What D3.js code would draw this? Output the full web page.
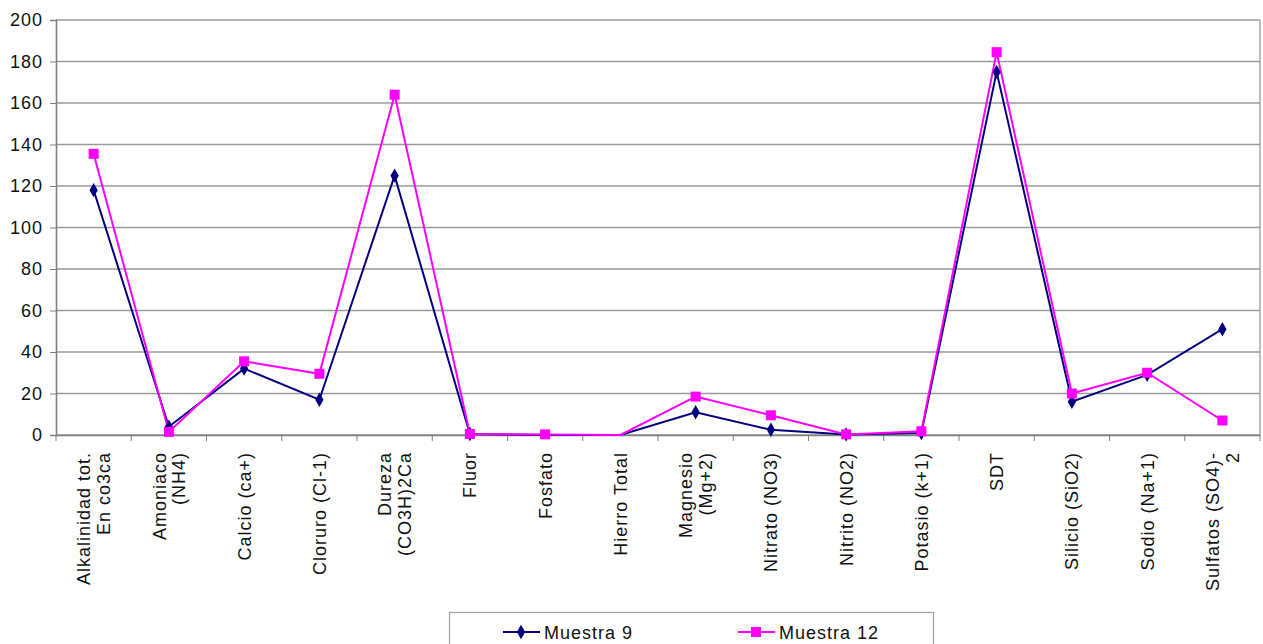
<!DOCTYPE html>
<html><head><meta charset="utf-8">
<script src="https://cdn.jsdelivr.net/npm/d3@7"></script>
<style>body{margin:0;background:#fff}svg{display:block;font-family:"Liberation Sans",Arial,sans-serif}</style>
</head><body><svg id="c" width="1263" height="644"></svg>
<script>
const categories = [
  ["Alkalinidad tot.","En co3ca"], ["Amoniaco","(NH4)"], ["Calcio (ca+)"], ["Cloruro (Cl-1)"],
  ["Dureza","(CO3H)2Ca"], ["Fluor"], ["Fosfato"], ["Hierro Total"], ["Magnesio","(Mg+2)"],
  ["Nitrato (NO3)"], ["Nitrito (NO2)"], ["Potasio (k+1)"], ["SDT"], ["Silicio (SiO2)"],
  ["Sodio (Na+1)"], ["Sulfatos (SO4)-","2"]
];
const muestra9  = [118, 4, 32, 17, 125, 0.5, 0, 0, 11, 2.5, 0.3, 1, 175, 16, 29, 51];
const muestra12 = [135.5, 1.5, 35.5, 29.5, 164, 0.5, 0.3, 0, 18.5, 9.5, 0.3, 1.8, 184.5, 20, 30, 7];
const yTicks = [0, 20, 40, 60, 80, 100, 120, 140, 160, 180, 200];
const seriesNames = ["Muestra 9", "Muestra 12"];

const FS = 18, LS = 1;
const svg = d3.select("#c");
const L = 56, R = 1260, T = 20, B = 435;
const x = d3.scaleBand().domain(d3.range(categories.length)).range([L, R]);
const y = d3.scaleLinear().domain([0, 200]).range([B, T]);

// gridlines
svg.append("g").selectAll("line").data(yTicks).join("line")
  .attr("x1", L).attr("x2", R).attr("y1", d => y(d)).attr("y2", d => y(d))
  .attr("stroke", "#9a9a9a").attr("stroke-width", 1.3);
svg.append("line").attr("x1", R).attr("x2", R).attr("y1", T).attr("y2", B).attr("stroke", "#9a9a9a").attr("stroke-width", 1.3);

// y axis
const ya = svg.append("g").attr("transform", `translate(${L},0)`)
  .call(d3.axisLeft(y).tickValues(yTicks).tickSize(6).tickPadding(7).tickFormat(d3.format("d")));
ya.select(".domain").attr("stroke", "#808080").attr("stroke-width", 1.6);
ya.selectAll(".tick line").attr("stroke", "#808080");
ya.selectAll("text").attr("font-size", FS).attr("letter-spacing", LS).attr("fill", "#111")
  .attr("font-family", "Liberation Sans, Arial, sans-serif");

// x axis
const xa = svg.append("g").attr("transform", `translate(0,${B})`)
  .call(d3.axisBottom(x).tickSize(0).tickFormat(""));
xa.select(".domain").attr("stroke", "#808080").attr("stroke-width", 1.6);
const tickPos = d3.range(categories.length + 1).map(i => L + i * x.step());
svg.append("g").selectAll("line").data(tickPos).join("line")
  .attr("x1", d => d).attr("x2", d => d).attr("y1", B).attr("y2", B + 6)
  .attr("stroke", "#808080");

// x labels
const lab = svg.append("g").selectAll("text").data(categories).join("text")
  .attr("transform", (d, i) => `translate(${x(i) + x.bandwidth() / 2},452) rotate(-90)`)
  .attr("text-anchor", "end").attr("font-size", FS).attr("letter-spacing", LS).attr("fill", "#111");
lab.each(function (d) {
  const t = d3.select(this);
  const n = d.length;
  d.forEach((s, k) => {
    t.append("tspan").attr("x", 0).attr("y", (k - (n - 1) / 2) * 19.5 + 6.5).text(s);
  });
});

const cx = i => x(i) + x.bandwidth() / 2;
const line = d3.line().x((d, i) => cx(i)).y(d => y(d));

svg.append("path").datum(muestra9).attr("d", line).attr("fill", "none")
  .attr("stroke", "#000080").attr("stroke-width", 2);
svg.append("path").datum(muestra12).attr("d", line).attr("fill", "none")
  .attr("stroke", "#ff00ff").attr("stroke-width", 2);

const diamond = d3.symbol().type(d3.symbolDiamond).size(60);
svg.append("g").selectAll("path").data(muestra9.map((v, i) => ({v, i})).filter(d => d.v > 0)).join("path")
  .attr("d", diamond).attr("transform", d => `translate(${cx(d.i)},${y(d.v)})`).attr("fill", "#000080");
svg.append("g").selectAll("rect").data(muestra12.map((v, i) => ({v, i})).filter(d => d.v > 0)).join("rect")
  .attr("x", d => cx(d.i) - 5).attr("y", d => y(d.v) - 5).attr("width", 10).attr("height", 10)
  .attr("fill", "#ff00ff");

// legend
const lg = svg.append("g");
lg.append("rect").attr("x", 449.5).attr("y", 612.5).attr("width", 484).attr("height", 40)
  .attr("fill", "#fff").attr("stroke", "#a0a0a0").attr("stroke-width", 1.2);
const items = [
  {name: seriesNames[0], color: "#000080", lx: 503, shape: "d"},
  {name: seriesNames[1], color: "#ff00ff", lx: 738, shape: "s"}
];
items.forEach(it => {
  lg.append("line").attr("x1", it.lx).attr("x2", it.lx + 37).attr("y1", 632).attr("y2", 632)
    .attr("stroke", it.color).attr("stroke-width", 2);
  if (it.shape === "d") {
    lg.append("path").attr("d", diamond).attr("transform", `translate(${it.lx + 18},632)`).attr("fill", it.color);
  } else {
    lg.append("rect").attr("x", it.lx + 13).attr("y", 627).attr("width", 10).attr("height", 10).attr("fill", it.color);
  }
  lg.append("text").attr("x", it.lx + 41).attr("y", 638.5).attr("font-size", FS).attr("letter-spacing", LS)
    .attr("fill", "#111").text(it.name);
});
</script></body></html>
